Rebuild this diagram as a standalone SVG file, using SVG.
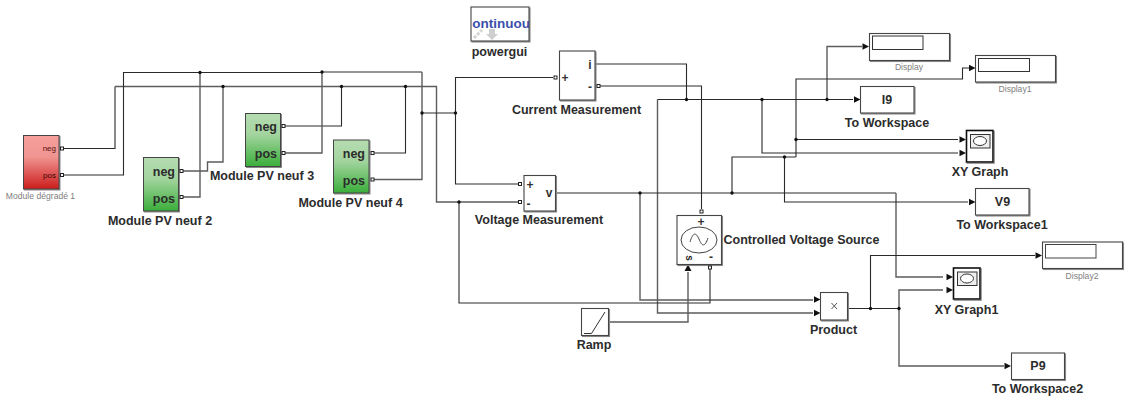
<svg xmlns="http://www.w3.org/2000/svg" width="1127" height="396" viewBox="0 0 1127 396">
<style>
.w{fill:none;stroke:#2a2a2a;stroke-width:1.1}
.g{fill:none;stroke:#5c5c5c;stroke-width:1.4}
.b{fill:#fff;stroke:#444;stroke-width:1.1;filter:url(#sh)}
.p{fill:#fff;stroke:#222;stroke-width:1}
.j{fill:#111;stroke:none}
.t{font-family:"Liberation Sans",Arial,sans-serif;font-weight:bold;font-size:12.5px;fill:#2c2c2c}
.m{text-anchor:middle}
.e{text-anchor:end}
.s{font-family:"Liberation Sans",Arial,sans-serif;font-size:8.6px;fill:#808080}
.i{font-family:"Liberation Sans",Arial,sans-serif;font-weight:bold;font-size:12px;fill:#333}
.a{fill:#111;stroke:none}
</style>
<defs>
<linearGradient id="red" x1="0" y1="0" x2="0" y2="1"><stop offset="0" stop-color="#f6a09c"/><stop offset="0.4" stop-color="#f09490"/><stop offset="1" stop-color="#cc1c1c"/></linearGradient>
<linearGradient id="green" x1="0" y1="0" x2="0" y2="1"><stop offset="0" stop-color="#b6dcb2"/><stop offset="0.4" stop-color="#a2d49e"/><stop offset="1" stop-color="#3aae3a"/></linearGradient>
<filter id="sh" x="-10%" y="-10%" width="125%" height="125%"><feDropShadow dx="1" dy="1" stdDeviation="0.6" flood-color="#888"/></filter>
<clipPath id="pg"><rect x="472" y="7" width="57" height="34"/></clipPath>
<path id="ah" d="M0 0L-6.5 -3.2V3.2Z"/>
</defs>

<g id="connectors">
<path class="w" d="M64 148.5H115V86.5"/>
<path class="g" d="M115 86.5H436.5V202H520"/>
<path class="w" d="M64 175H123.5V72.5H322"/>
<path class="w" d="M322 72H422"/>
<path class="g" d="M422 72V179.5H374"/>
<path class="g" d="M183 171H207.5V162H223V86.5"/>
<path class="g" d="M183 197H200V72.5"/>
<path class="w" d="M285 126H341.5V86.5"/>
<path class="g" d="M285 153H322V72"/>
<path class="w" d="M374 153H405.5V86.5"/>
<path class="w" d="M422 113H455.5"/>
<path class="w" d="M553 77.5H455.5V184H518"/>
<path class="w" d="M595 64H686.5V99.5"/>
<path class="w" d="M600 86H701.5V209"/>
<path class="g" d="M657.5 99.5V313H813"/>
<path class="w" d="M657.5 99.5H853"/>
<path class="w" d="M762 99.5V153H958"/>
<path class="g" d="M827 99.5V46.5H862"/>
<path class="w" d="M555.5 193H896"/>
<path class="g" d="M896 193V277H943"/>
<path class="g" d="M640 193V300H813"/>
<path class="w" d="M732 193V157H796"/>
<path class="w" d="M796 157V79H962.5V68H969"/>
<path class="w" d="M796 139.5H958"/>
<path class="w" d="M784.5 157V202H968"/>
<path class="w" d="M459 202V303H710V269"/>
<path class="g" d="M608 322H688V272"/>
<path class="w" d="M847.5 308.5H899"/>
<path class="w" d="M870.5 308.5V255.5H1035"/>
<path class="g" d="M899 308.5V290H943"/>
<path class="g" d="M899 308.5V366H1004"/>
<g class="j">
<circle cx="200" cy="72.5" r="1.7"/><circle cx="223" cy="86.5" r="1.7"/><circle cx="322" cy="72" r="1.7"/><circle cx="341.5" cy="86.5" r="1.7"/><circle cx="405.5" cy="86.5" r="1.7"/><circle cx="422" cy="113" r="1.7"/><circle cx="455.5" cy="113" r="1.7"/><circle cx="459" cy="202" r="1.7"/><circle cx="686.5" cy="99.5" r="1.7"/><circle cx="762" cy="99.5" r="1.7"/><circle cx="827" cy="99.5" r="1.7"/><circle cx="640" cy="193" r="1.7"/><circle cx="732" cy="193" r="1.7"/><circle cx="784.5" cy="157" r="1.7"/><circle cx="796" cy="139.5" r="1.7"/><circle cx="870.5" cy="308.5" r="1.7"/><circle cx="899" cy="308.5" r="1.7"/>
</g>
<g class="a">
<use href="#ah" x="869" y="46.5"/><use href="#ah" x="975.5" y="68"/><use href="#ah" x="860.5" y="99.5"/><use href="#ah" x="966" y="139.5"/><use href="#ah" x="966" y="153"/><use href="#ah" x="975.5" y="202"/><use href="#ah" x="1042" y="255.5"/><use href="#ah" x="953" y="277"/><use href="#ah" x="953" y="290"/><use href="#ah" x="820.5" y="299.5"/><use href="#ah" x="820.5" y="313"/><use href="#ah" x="1011" y="366"/>
<path d="M688 264.5L684.5 271H691.5Z"/>
</g>
</g>

<g id="module-degrade-1">
<rect x="23.5" y="135.5" width="35.5" height="53.5" fill="url(#red)" stroke="#444" filter="url(#sh)"/>
<text x="56" y="151" class="e" font-family="Liberation Sans, Arial, sans-serif" font-size="8" fill="#5a1010">neg</text>
<text x="56" y="178" class="e" font-family="Liberation Sans, Arial, sans-serif" font-size="8" fill="#3a0808">pos</text>
<rect class="p" x="60.5" y="147" width="3" height="3"/><rect class="p" x="60.5" y="173.5" width="3" height="3"/>
<text x="40.5" y="199" class="s m">Module dégradé 1</text>
</g>
<g id="module-pv-neuf-2">
<rect x="143.5" y="157.5" width="35" height="53.5" fill="url(#green)" stroke="#444" filter="url(#sh)"/>
<text x="175" y="176" class="t e">neg</text><text x="175" y="203" class="t e">pos</text>
<rect class="p" x="180" y="169.5" width="3" height="3"/><rect class="p" x="180" y="195.5" width="3" height="3"/>
<text x="160" y="224.5" class="t m">Module PV neuf 2</text>
</g>
<g id="module-pv-neuf-3">
<rect x="245.5" y="113.5" width="35" height="53" fill="url(#green)" stroke="#444" filter="url(#sh)"/>
<text x="277" y="131" class="t e">neg</text><text x="277" y="158" class="t e">pos</text>
<rect class="p" x="282" y="124.5" width="3" height="3"/><rect class="p" x="282" y="151.5" width="3" height="3"/>
<text x="262" y="180" class="t m">Module PV neuf 3</text>
</g>
<g id="module-pv-neuf-4">
<rect x="333.5" y="140" width="35.5" height="53" fill="url(#green)" stroke="#444" filter="url(#sh)"/>
<text x="365" y="158" class="t e">neg</text><text x="365" y="185" class="t e">pos</text>
<rect class="p" x="371" y="151.5" width="3" height="3"/><rect class="p" x="371" y="178" width="3" height="3"/>
<text x="350.5" y="206.5" class="t m">Module PV neuf 4</text>
</g>
<g id="powergui">
<rect class="b" x="471" y="7" width="58" height="34"/>
<g clip-path="url(#pg)"><text x="500" y="28" class="m" font-family="Liberation Sans, Arial, sans-serif" font-weight="bold" font-size="13.5" fill="#3b50ac">Continuous</text></g>
<path d="M489 29H495V34H498L492 40L486 34H489Z" fill="#cfcfcf"/>
<path d="M474 38L482 30" stroke="#d4d4d4" stroke-width="3" stroke-dasharray="3 1.5" fill="none"/>
<text x="499.5" y="55.5" class="t m">powergui</text>
</g>
<g id="current-measurement">
<rect class="b" x="559.5" y="51" width="35.5" height="49"/>
<text x="565" y="81.5" class="i m">+</text><text x="590" y="68.5" class="i m">i</text><text x="590" y="91" class="i m">-</text>
<rect class="p" x="554" y="76" width="3" height="3"/><rect class="p" x="597" y="84.5" width="3" height="3"/>
<text x="576.5" y="114" class="t m">Current Measurement</text>
</g>
<g id="voltage-measurement">
<rect class="b" x="524" y="175.5" width="31.5" height="35.5"/>
<text x="530" y="188.5" class="i m">+</text><text x="528.5" y="208" class="i m">-</text><text x="549" y="197" class="i m">v</text>
<rect class="p" x="518.5" y="182.5" width="3" height="3"/><rect class="p" x="518.5" y="200.5" width="3" height="3"/>
<text x="539" y="224" class="t m">Voltage Measurement</text>
</g>
<g id="controlled-voltage-source">
<rect class="b" x="677" y="215.5" width="44.5" height="49"/>
<text x="701" y="225.5" class="i m">+</text>
<ellipse cx="699" cy="240" rx="18" ry="13" fill="none" stroke="#444" stroke-width="1"/>
<path d="M690 242C693 232 696 232 699 239C702 247 705 247 708 238" fill="none" stroke="#444" stroke-width="1"/>
<text x="688.5" y="258" class="m" transform="rotate(90 688.5 258)" dy="3" font-family="Liberation Sans, Arial, sans-serif" font-weight="bold" font-size="10" fill="#222">s</text>
<text x="711" y="261" class="i m">-</text>
<rect class="p" x="700" y="210" width="3" height="3"/><rect class="p" x="708.5" y="266" width="3" height="3"/>
<text x="801.5" y="244" class="t m">Controlled Voltage Source</text>
</g>
<g id="ramp">
<rect class="b" x="581.5" y="308.5" width="27" height="27"/>
<path d="M584 333.5H591.5L605 312" fill="none" stroke="#333" stroke-width="1"/>
<text x="594" y="349" class="t m">Ramp</text>
</g>
<g id="product">
<rect class="b" x="820.5" y="292.5" width="27" height="27.5"/>
<path d="M831.5 303L837 309M837 303L831.5 309" stroke="#555" stroke-width="1"/>
<text x="833.5" y="334" class="t m">Product</text>
</g>
<g id="display">
<rect class="b" x="869.5" y="33.5" width="80" height="27"/>
<rect x="872.5" y="36" width="50.5" height="13.5" fill="#fff" stroke="#333"/>
<text x="909" y="70" class="s m">Display</text>
</g>
<g id="display1">
<rect class="b" x="975.5" y="55.5" width="80" height="26.5"/>
<rect x="978.5" y="58.5" width="51" height="13" fill="#fff" stroke="#333"/>
<text x="1015" y="92" class="s m">Display1</text>
</g>
<g id="display2">
<rect class="b" x="1042.5" y="242" width="80" height="26.5"/>
<rect x="1045.5" y="244.5" width="50.5" height="13.5" fill="#fff" stroke="#444"/>
<text x="1082" y="279" class="s m">Display2</text>
</g>
<g id="to-workspace">
<rect class="b" x="860.5" y="86.5" width="53.5" height="26.5"/>
<text x="887" y="104" class="t m">I9</text>
<text x="887" y="127" class="t m">To Workspace</text>
</g>
<g id="to-workspace1">
<rect class="b" x="975.5" y="188.5" width="53.5" height="26.5"/>
<text x="1002.5" y="206" class="t m">V9</text>
<text x="1002" y="229" class="t m">To Workspace1</text>
</g>
<g id="to-workspace2">
<rect class="b" x="1011.5" y="353" width="53" height="26.5"/>
<text x="1038" y="370" class="t m">P9</text>
<text x="1037.5" y="393" class="t m">To Workspace2</text>
</g>
<g id="xy-graph">
<rect x="966.5" y="130.5" width="26.5" height="31.5" fill="#fff" stroke="#111" stroke-width="1.6" filter="url(#sh)"/>
<rect x="970.5" y="134.5" width="19.5" height="13.5" fill="#eee" stroke="#333"/>
<ellipse cx="980" cy="141" rx="6.5" ry="4.5" fill="#fff" stroke="#333"/>
<text x="980" y="176" class="t m">XY Graph</text>
</g>
<g id="xy-graph1">
<rect x="953.5" y="268" width="26.5" height="31" fill="#fff" stroke="#111" stroke-width="1.6" filter="url(#sh)"/>
<rect x="957.5" y="272" width="19.5" height="13.5" fill="#eee" stroke="#333"/>
<ellipse cx="967" cy="278.5" rx="6.5" ry="4.5" fill="#fff" stroke="#333"/>
<text x="966.5" y="314" class="t m">XY Graph1</text>
</g>
</svg>
